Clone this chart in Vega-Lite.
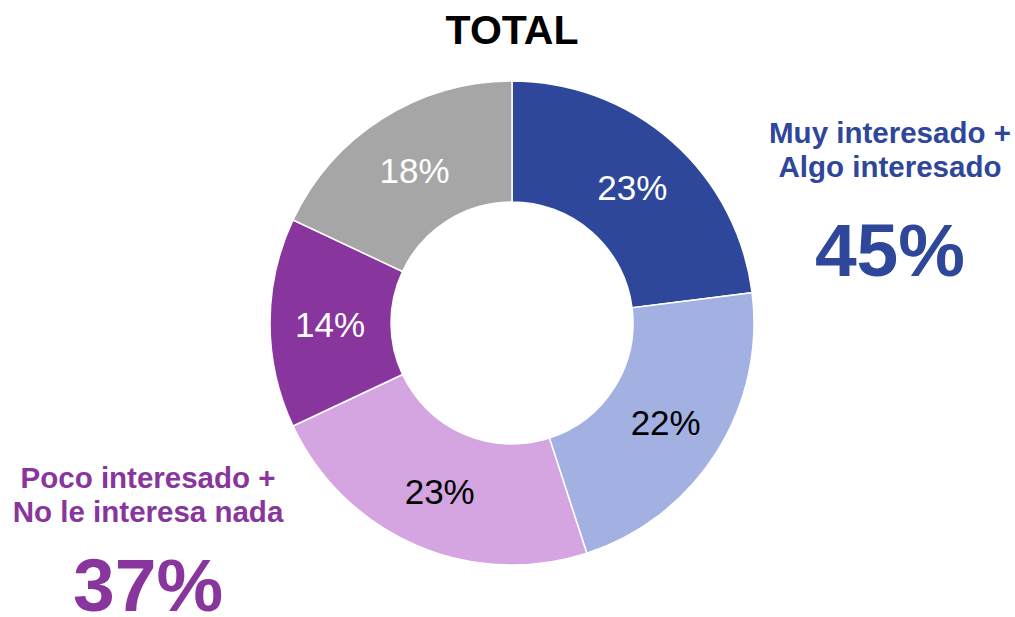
{
  "$schema": "https://vega.github.io/schema/vega-lite/v6.json",
  "width": 1006,
  "height": 588,
  "autosize": {"type": "none"},
  "padding": {"left": 9, "top": 29, "right": 0, "bottom": 0},
  "background": "white",
  "title": {
    "text": "TOTAL",
    "font": "Liberation Sans",
    "fontSize": 41,
    "fontWeight": "bold",
    "color": "black",
    "anchor": "middle",
    "frame": "group",
    "baseline": "alphabetic",
    "offset": -56
  },
  "config": {"view": {"stroke": null}, "font": "Liberation Sans"},
  "datasets": {
    "segmentos": [
      {"categoria": "Muy interesado", "orden": 1, "porcentaje": 0.23},
      {"categoria": "Algo interesado", "orden": 2, "porcentaje": 0.22},
      {"categoria": "Poco interesado", "orden": 3, "porcentaje": 0.23},
      {"categoria": "No le interesa nada", "orden": 4, "porcentaje": 0.14},
      {"categoria": "NS/NC", "orden": 5, "porcentaje": 0.18}
    ],
    "resumen": [
      {"lado": "derecha", "lineas": "Muy interesado +\nAlgo interesado", "total": "45%", "px": 87.57, "py_label": 19.39, "py_total": 42.0},
      {"lado": "izquierda", "lineas": "Poco interesado +\nNo le interesa nada", "total": "37%", "px": 13.82, "py_label": 78.0, "py_total": 98.9}
    ]
  },
  "layer": [
    {
      "data": {"name": "segmentos"},
      "mark": {"type": "arc", "outerRadius": 242, "innerRadius": 121, "stroke": "white", "strokeWidth": 1.5},
      "encoding": {
        "theta": {"field": "porcentaje", "type": "quantitative", "stack": true},
        "order": {"field": "orden", "type": "quantitative"},
        "color": {
          "field": "categoria",
          "type": "nominal",
          "scale": {
            "domain": ["Muy interesado", "Algo interesado", "Poco interesado", "No le interesa nada", "NS/NC"],
            "range": ["#2F479B", "#A3B0E2", "#D4A5E1", "#88359E", "#A6A6A6"]
          },
          "legend": null
        }
      }
    },
    {
      "data": {"name": "segmentos"},
      "mark": {"type": "text", "radius": 182, "fontSize": 35, "font": "Liberation Sans", "dy": 3},
      "encoding": {
        "theta": {"field": "porcentaje", "type": "quantitative", "stack": true},
        "order": {"field": "orden", "type": "quantitative"},
        "text": {"field": "porcentaje", "type": "quantitative", "format": ".0%"},
        "color": {
          "condition": {"test": "datum.categoria === 'Algo interesado' || datum.categoria === 'Poco interesado'", "value": "black"},
          "value": "white"
        }
      }
    },
    {
      "data": {"name": "resumen"},
      "mark": {"type": "text", "fontSize": 29.5, "fontWeight": "bold", "font": "Liberation Sans", "align": "center", "baseline": "alphabetic", "lineBreak": "\n", "lineHeight": 34},
      "encoding": {
        "x": {"field": "px", "type": "quantitative", "scale": {"domain": [0, 100]}, "axis": null},
        "y": {"field": "py_label", "type": "quantitative", "scale": {"domain": [0, 100], "reverse": true}, "axis": null},
        "text": {"field": "lineas"},
        "color": {
          "condition": {"test": "datum.lado === 'derecha'", "value": "#2F479B"},
          "value": "#88359E"
        }
      }
    },
    {
      "data": {"name": "resumen"},
      "mark": {"type": "text", "fontSize": 75, "fontWeight": "bold", "font": "Liberation Sans", "align": "center", "baseline": "alphabetic"},
      "encoding": {
        "x": {"field": "px", "type": "quantitative", "scale": {"domain": [0, 100]}, "axis": null},
        "y": {"field": "py_total", "type": "quantitative", "scale": {"domain": [0, 100], "reverse": true}, "axis": null},
        "text": {"field": "total"},
        "color": {
          "condition": {"test": "datum.lado === 'derecha'", "value": "#2F479B"},
          "value": "#88359E"
        }
      }
    }
  ]
}
